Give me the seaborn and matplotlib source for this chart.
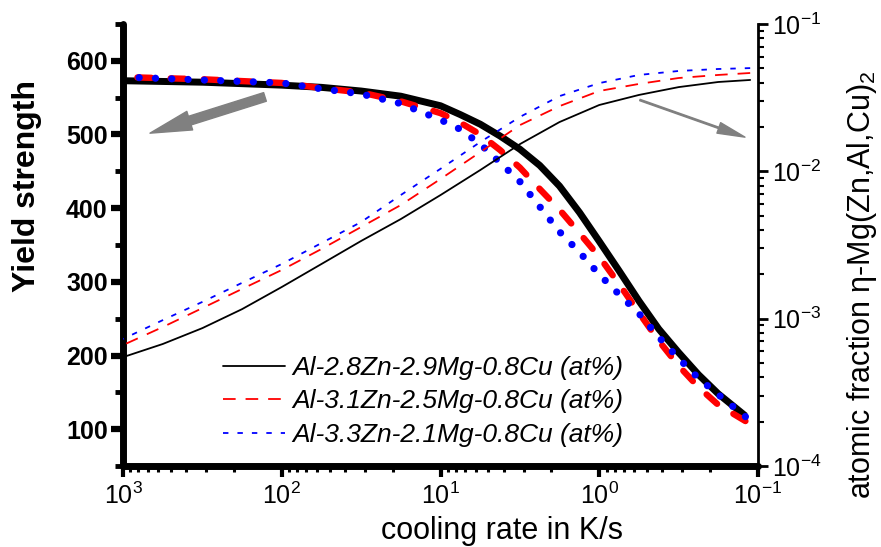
import matplotlib
matplotlib.use("Agg")
import matplotlib.pyplot as plt
import seaborn as sns
from matplotlib.ticker import LogLocator, NullFormatter, FixedLocator

# Cooling rates (K/s) and yield strength of the three alloys
rate_ys = [1000, 316, 100, 56.2, 31.6, 17.8, 10, 7.5, 5.62, 4.22, 3.16, 2.37, 1.78, 1.33,
           1.0, 0.75, 0.562, 0.422, 0.316, 0.237, 0.178, 0.12]
ys_a = [573, 571, 567, 564, 559, 552, 539, 527, 514, 498, 480, 458, 430, 394,
        355, 315, 274, 236, 204, 174, 148, 118]
ys_b = [578, 575, 570, 563, 557, 545, 529, 516, 500, 479, 455, 426, 398, 366,
        334, 297, 258, 220, 186, 157, 133, 111]
ys_c = [578, 574, 570, 562, 555, 542, 520, 507, 487, 462, 436, 402, 368, 340,
        310, 283, 257, 225, 196, 169, 147, 117]

# Cooling rates (K/s) and atomic fraction of the eta phase
rate_eta = [1000, 562, 316, 178, 100, 56.2, 31.6, 17.8, 10, 5.62, 3.16, 1.78, 1.0, 0.562,
            0.316, 0.178, 0.112]
eta_a = [5.48e-4, 6.73e-4, 8.63e-4, 1.16e-3, 1.64e-3, 2.35e-3, 3.37e-3, 4.74e-3, 6.90e-3,
         1.02e-2, 1.53e-2, 2.16e-2, 2.82e-2, 3.30e-2, 3.73e-2, 4.04e-2, 4.17e-2]
eta_b = [6.62e-4, 8.77e-4, 1.18e-3, 1.59e-3, 2.14e-3, 2.97e-3, 4.19e-3, 5.90e-3, 8.87e-3,
         1.35e-2, 2.06e-2, 2.77e-2, 3.51e-2, 3.92e-2, 4.30e-2, 4.51e-2, 4.65e-2]
eta_c = [7.28e-4, 9.77e-4, 1.30e-3, 1.75e-3, 2.35e-3, 3.26e-3, 4.53e-3, 6.90e-3, 1.04e-2,
         1.58e-2, 2.34e-2, 3.24e-2, 3.97e-2, 4.51e-2, 4.80e-2, 4.95e-2, 5.02e-2]

alloys = ["Al-2.8Zn-2.9Mg-0.8Cu (at%)",
          "Al-3.1Zn-2.5Mg-0.8Cu (at%)",
          "Al-3.3Zn-2.1Mg-0.8Cu (at%)"]
colors = ["black", "red", "blue"]

ys_ticks = [100, 200, 300, 400, 500, 600]
ys_minor = [50, 150, 250, 350, 450, 550, 650]

sns.set_theme(style="ticks")
plt.rcParams["font.family"] = ["Liberation Sans", "DejaVu Sans"]
plt.rcParams["mathtext.fontset"] = "custom"
plt.rcParams["mathtext.rm"] = "Liberation Sans"
plt.rcParams["mathtext.it"] = "Liberation Sans:italic"
plt.rcParams["mathtext.bf"] = "Liberation Sans:bold"
plt.rcParams["mathtext.default"] = "regular"
for key in ("axes.edgecolor", "text.color", "axes.labelcolor", "xtick.color", "ytick.color",
            "xtick.labelcolor", "ytick.labelcolor"):
    plt.rcParams[key] = "black"

fig = plt.figure(figsize=(8.81, 5.47), dpi=100)
ax = fig.add_subplot(111)
fig.subplots_adjust(left=123 / 881, right=758 / 881, bottom=1 - 466 / 547, top=1 - 24 / 547)

ax.set_xscale("log")
ax.set_xlim(1000, 0.1)
ax.set_ylim(50, 650)

ax2 = ax.twinx()
ax2.set_yscale("log")
ax2.set_ylim(1e-4, 1e-1)

# thick curves: yield strength (left axis)
thick_styles = [
    dict(lw=5.0, ls="-", solid_capstyle="butt"),
    dict(lw=4.6, ls=(0, (2.2, 3.0)), dash_capstyle="round"),
    dict(lw=5.2, ls=(0, (0.01, 2.25)), dash_capstyle="round"),
]
for yv, c, st in zip([ys_a, ys_b, ys_c], colors, thick_styles):
    sns.lineplot(x=rate_ys, y=yv, ax=ax, color=c, errorbar=None, **st)

# thin curves: eta phase fraction (right axis)
thin_styles = [
    dict(lw=1.3, ls="-"),
    dict(lw=1.3, ls=(0, (7, 5.5))),
    dict(lw=1.3, ls=(0, (3, 5))),
]
for yv, c, st, lab in zip([eta_a, eta_b, eta_c], colors, thin_styles, alloys):
    sns.lineplot(x=rate_eta, y=yv, ax=ax2, color=c, errorbar=None, label=lab, **st)

ax.set_xlim(1000, 0.1)
ax2.set_ylim(1e-4, 1e-1)

# spines
ax.spines["top"].set_visible(False)
ax.spines["right"].set_visible(False)
ax2.spines["top"].set_visible(False)
ax2.spines["left"].set_visible(False)
ax2.spines["bottom"].set_visible(False)
for s in ("left", "bottom"):
    ax.spines[s].set_linewidth(5)
    ax.spines[s].set_capstyle("round")
ax2.spines["right"].set_linewidth(2)

# left axis ticks
ax.yaxis.set_major_locator(FixedLocator(ys_ticks))
ax.yaxis.set_minor_locator(FixedLocator(ys_minor))
ax.tick_params(axis="y", which="major", direction="out", length=9, width=4.5, pad=2,
               labelsize=18, color="black", labelcolor="black")
ax.tick_params(axis="y", which="minor", direction="out", length=6, width=3.5, color="black")
for t in ax.get_yticklabels():
    t.set_fontweight("bold")

# bottom axis ticks
ax.xaxis.set_major_locator(LogLocator(base=10, numticks=10))
ax.xaxis.set_minor_locator(LogLocator(base=10, subs=range(2, 10), numticks=20))
ax.xaxis.set_minor_formatter(NullFormatter())
ax.tick_params(axis="x", which="major", direction="out", length=8, width=3, pad=4,
               labelsize=18, color="black", labelcolor="black")
ax.tick_params(axis="x", which="minor", direction="out", length=4.5, width=2.2, color="black")

# right axis ticks
ax2.yaxis.set_major_locator(LogLocator(base=10, numticks=10))
ax2.yaxis.set_minor_locator(LogLocator(base=10, subs=range(2, 10), numticks=20))
ax2.yaxis.set_minor_formatter(NullFormatter())
ax2.tick_params(axis="y", which="major", direction="out", length=7, width=2, pad=3,
                labelsize=18, color="black", labelcolor="black")
ax2.tick_params(axis="y", which="minor", direction="out", length=4, width=1.5, color="black")

# axis labels
ax.set_xlabel("cooling rate in K/s", fontsize=22, color="black")
ax.xaxis.label.set_verticalalignment("baseline")
ax.xaxis.set_label_coords(0.597, -0.165)
ax.set_ylabel("Yield strength", fontsize=23, fontweight="bold", color="black")
ax.yaxis.set_label_coords(-0.128, 0.633)
ax2.set_ylabel("atomic fraction η-Mg(Zn,Al,Cu)$_2$", fontsize=22, color="black")
ax2.yaxis.set_label_coords(1.137, 0.41)

# legend
handles, labels = ax2.get_legend_handles_labels()
ax2.legend(handles, labels, loc="lower left", bbox_to_anchor=(0.157, 0.043),
           frameon=False, prop={"style": "italic", "size": 19},
           handlelength=2.35, handletextpad=0.3, labelspacing=0.36,
           borderpad=0, borderaxespad=0)

# arrows pointing to the corresponding axis
ax2.annotate("", xy=(0.0425, 0.753), xytext=(0.2236, 0.835),
             xycoords="axes fraction", textcoords="axes fraction",
             arrowprops=dict(facecolor="#808080", edgecolor="#808080",
                             width=6.5, headwidth=14, headlength=30, shrink=0))
ax2.annotate("", xy=(0.9795, 0.744), xytext=(0.814, 0.828),
             xycoords="axes fraction", textcoords="axes fraction",
             arrowprops=dict(facecolor="#808080", edgecolor="#808080",
                             width=1.0, headwidth=8, headlength=20, shrink=0))

fig.savefig("out.png", dpi=100)
